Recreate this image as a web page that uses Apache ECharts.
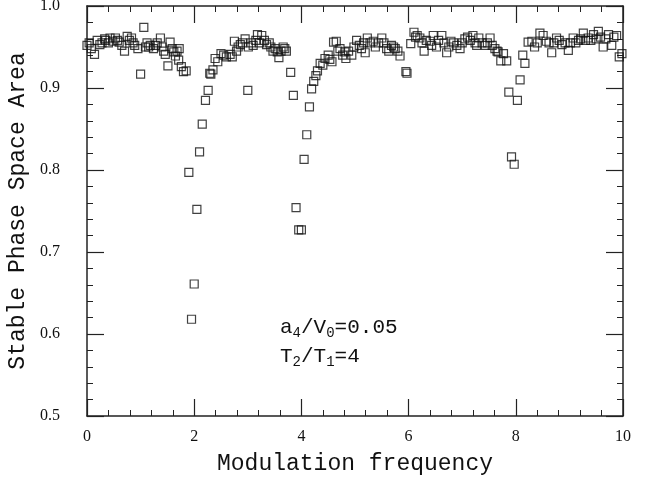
<!DOCTYPE html>
<html><head><meta charset="utf-8">
<script src="https://cdn.jsdelivr.net/npm/echarts@6/dist/echarts.min.js"></script>
<style>html,body{margin:0;padding:0;background:#fff}#c{width:652px;height:478px}</style>
</head><body><div id="c"></div>
<script>
const freq = [0.00,0.04,0.08,0.14,0.19,0.24,0.28,0.33,0.35,0.40,0.43,0.48,0.53,0.57,0.60,0.65,0.70,0.75,0.79,0.83,0.86,0.89,0.95,1.00,1.06,1.09,1.12,1.15,1.18,1.24,1.28,1.31,1.37,1.40,1.43,1.46,1.51,1.55,1.59,1.62,1.65,1.68,1.72,1.71,1.76,1.80,1.85,1.90,1.95,2.00,2.05,2.10,2.15,2.21,2.26,2.29,2.31,2.35,2.39,2.44,2.50,2.55,2.60,2.67,2.71,2.75,2.79,2.82,2.86,2.90,2.95,3.00,3.01,3.06,3.10,3.15,3.18,3.22,3.26,3.31,3.35,3.40,3.43,3.47,3.51,3.55,3.58,3.62,3.66,3.69,3.72,3.80,3.85,3.90,3.95,4.00,4.05,4.10,4.15,4.19,4.23,4.27,4.30,4.35,4.40,4.44,4.50,4.53,4.57,4.60,4.65,4.68,4.72,4.77,4.81,4.83,4.88,4.94,4.98,5.03,5.08,5.12,5.16,5.19,5.23,5.28,5.34,5.38,5.44,5.50,5.54,5.59,5.63,5.68,5.72,5.75,5.80,5.84,5.95,5.97,6.04,6.10,6.13,6.16,6.21,6.25,6.29,6.33,6.40,6.43,6.46,6.52,6.56,6.62,6.66,6.71,6.75,6.79,6.84,6.90,6.96,7.00,7.05,7.10,7.15,7.20,7.24,7.27,7.31,7.37,7.43,7.47,7.52,7.56,7.61,7.65,7.67,7.72,7.77,7.83,7.87,7.92,7.97,8.03,8.08,8.13,8.17,8.23,8.30,8.35,8.40,8.45,8.51,8.57,8.62,8.67,8.71,8.76,8.81,8.86,8.92,8.98,9.02,9.07,9.12,9.17,9.21,9.26,9.30,9.35,9.40,9.45,9.50,9.54,9.58,9.63,9.68,9.73,9.79,9.83,9.88,9.93,9.98];
const area = [0.952,0.955,0.948,0.941,0.958,0.953,0.955,0.960,0.958,0.955,0.961,0.957,0.961,0.958,0.956,0.952,0.945,0.963,0.958,0.961,0.955,0.952,0.948,0.917,0.974,0.950,0.955,0.950,0.952,0.948,0.952,0.955,0.961,0.950,0.945,0.941,0.927,0.956,0.948,0.944,0.939,0.945,0.948,0.934,0.926,0.920,0.921,0.797,0.618,0.661,0.752,0.822,0.856,0.885,0.897,0.918,0.917,0.922,0.936,0.932,0.942,0.940,0.938,0.941,0.938,0.957,0.945,0.950,0.953,0.955,0.960,0.897,0.950,0.955,0.952,0.958,0.965,0.955,0.964,0.958,0.953,0.955,0.950,0.945,0.948,0.944,0.937,0.945,0.950,0.948,0.945,0.919,0.891,0.754,0.727,0.727,0.813,0.843,0.877,0.899,0.908,0.915,0.921,0.930,0.928,0.936,0.940,0.935,0.932,0.956,0.957,0.945,0.948,0.940,0.944,0.936,0.945,0.940,0.950,0.958,0.952,0.948,0.955,0.943,0.961,0.955,0.957,0.950,0.955,0.961,0.955,0.948,0.945,0.952,0.950,0.948,0.945,0.939,0.920,0.918,0.954,0.968,0.962,0.964,0.961,0.955,0.945,0.958,0.957,0.952,0.964,0.950,0.958,0.964,0.955,0.943,0.950,0.957,0.955,0.952,0.948,0.955,0.960,0.962,0.958,0.964,0.955,0.952,0.961,0.955,0.952,0.955,0.961,0.952,0.948,0.945,0.944,0.933,0.942,0.933,0.895,0.816,0.807,0.885,0.910,0.940,0.930,0.956,0.957,0.950,0.955,0.967,0.964,0.957,0.955,0.943,0.955,0.961,0.958,0.953,0.955,0.946,0.955,0.961,0.955,0.958,0.960,0.967,0.958,0.961,0.958,0.965,0.960,0.969,0.962,0.950,0.960,0.965,0.952,0.962,0.964,0.938,0.942];
const xLabelTitle = 'Modulation frequency';
const yLabelTitle = 'Stable Phase Space Area';

const chart = echarts.init(document.getElementById('c'), null, {renderer:'canvas'});
const axisCol = '#222';
const serifFont = 'Liberation Serif';
const monoFont = 'Liberation Mono';
function mkAxis(show, extra){
  return Object.assign({
    type:'value',
    axisLine:{show:true, onZero:false, lineStyle:{color:axisCol, width:1.5}},
    axisTick:{show:true, inside:true, length:17, lineStyle:{color:axisCol, width:1.2}},
    minorTick:{show:true, splitNumber:5, length:6, lineStyle:{color:axisCol, width:1}},
    splitLine:{show:false},
    axisLabel:{show:show}
  }, extra);
}
chart.setOption({
  animation:false,
  backgroundColor:'#fff',
  grid:{left:87, right:29, top:6, bottom:62, containLabel:false, outerBoundsMode:'none'},
  xAxis:[
    mkAxis(true,{min:0,max:10,interval:2,position:'bottom',
      axisLabel:{show:true, margin:13, color:'#111', fontFamily:serifFont, fontSize:16},
      name:xLabelTitle, nameLocation:'middle', nameGap:36,
      nameTextStyle:{fontFamily:monoFont, fontSize:23, color:'#111'}}),
    mkAxis(false,{min:0,max:10,interval:2,position:'top'})
  ],
  yAxis:[
    mkAxis(true,{min:0.5,max:1.0,interval:0.1,position:'left',
      axisLabel:{show:true, margin:27, color:'#111', fontFamily:serifFont, fontSize:16,
        formatter:v=>v.toFixed(1)},
      name:yLabelTitle, nameLocation:'middle', nameGap:54,
      nameTextStyle:{fontFamily:monoFont, fontSize:23, color:'#111'}}),
    mkAxis(false,{min:0.5,max:1.0,interval:0.1,position:'right'})
  ],
  series:[{
    type:'scatter',
    xAxisIndex:0, yAxisIndex:0,
    symbol:'rect', symbolSize:8,
    itemStyle:{color:'rgba(255,255,255,0)', borderColor:'#111', borderWidth:1.2},
    data: freq.map((f,i)=>[f, area[i]])
  }],
  graphic:[
    {type:'text', left:280, top:317, style:{
      text:'{m|a}{s|4}{m|/V}{s|0}{m|=0.05}',
      rich:{m:{fontFamily:monoFont, fontSize:21, fill:'#111'}, s:{fontFamily:monoFont, fontSize:14, fill:'#111', padding:[12,0,0,0]}}
    }},
    {type:'text', left:280, top:346, style:{
      text:'{m|T}{s|2}{m|/T}{s|1}{m|=4}',
      rich:{m:{fontFamily:monoFont, fontSize:21, fill:'#111'}, s:{fontFamily:monoFont, fontSize:14, fill:'#111', padding:[12,0,0,0]}}
    }}
  ]
});
</script></body></html>
